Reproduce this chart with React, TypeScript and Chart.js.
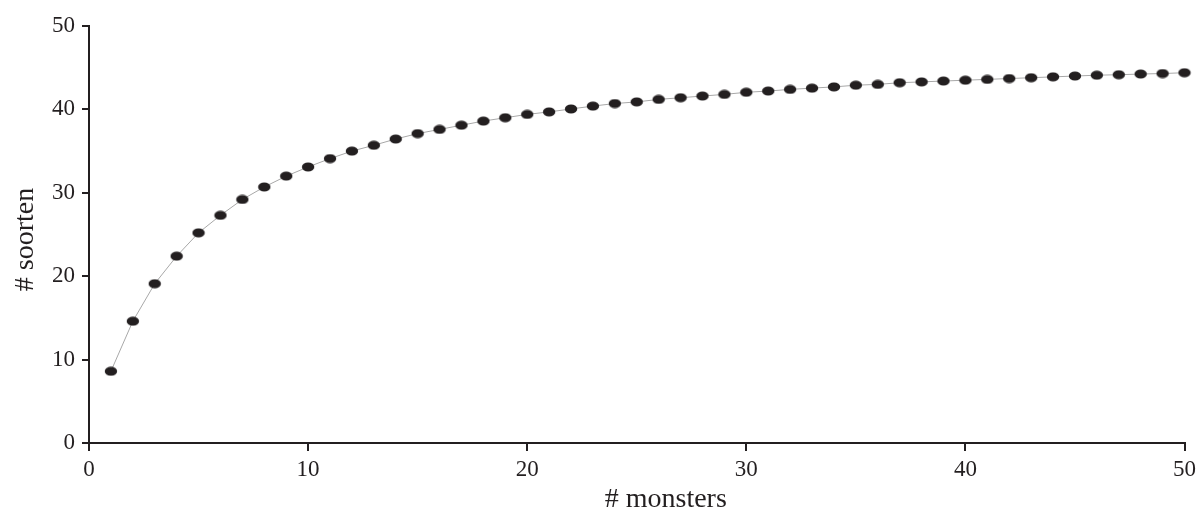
import React, { useEffect, useRef } from "react";
import { Chart, registerables } from "chart.js";

Chart.register(...registerables);

const monsters: number[] = Array.from({ length: 50 }, (_, i) => i + 1);
const soorten: number[] = [
  8.6, 14.6, 19.1, 22.4, 25.2, 27.3, 29.2, 30.7, 32.0, 33.1,
  34.1, 35.0, 35.7, 36.45, 37.1, 37.6, 38.1, 38.6, 39.0, 39.4,
  39.7, 40.05, 40.4, 40.7, 40.9, 41.2, 41.4, 41.6, 41.8, 42.05,
  42.2, 42.4, 42.55, 42.7, 42.9, 43.0, 43.2, 43.3, 43.4, 43.5,
  43.6, 43.7, 43.8, 43.9, 44.0, 44.1, 44.16, 44.24, 44.3, 44.4,
];
const xTicks: number[] = [0, 10, 20, 30, 40, 50];
const yTicks: number[] = [0, 10, 20, 30, 40, 50];
const xTitle = "# monsters";
const yTitle = "# soorten";

const INK = "#231f20";
const FONT = "'Liberation Serif', 'Times New Roman', serif";

function makeEllipse(): HTMLCanvasElement {
  const c = document.createElement("canvas");
  c.width = 14;
  c.height = 10;
  const ctx = c.getContext("2d")!;
  ctx.fillStyle = INK;
  ctx.beginPath();
  ctx.ellipse(7, 5, 6.2, 4.6, 0, 0, Math.PI * 2);
  ctx.fill();
  return c;
}

const axisTitles = {
  id: "axisTitles",
  afterDraw(chart: any) {
    const { ctx, chartArea } = chart;
    ctx.save();
    ctx.fillStyle = INK;
    ctx.font = `28px ${FONT}`;
    ctx.textAlign = "center";
    ctx.textBaseline = "alphabetic";
    const cx = chartArea.left + (chartArea.right - chartArea.left) * 0.5265;
    ctx.fillText(xTitle, cx, chart.height - 5);
    ctx.translate(33, (chartArea.top + chartArea.bottom) / 2 + 5);
    ctx.rotate(-Math.PI / 2);
    ctx.fillText(yTitle, 0, 0);
    ctx.restore();
  },
};

export default function App() {
  const ref = useRef<HTMLCanvasElement | null>(null);

  useEffect(() => {
    document.body.style.margin = "0";
    const canvas = ref.current!;
    const marker = makeEllipse();
    const chart = new Chart(canvas, {
      type: "line",
      data: {
        datasets: [
          {
            data: monsters.map((m, i) => ({ x: m, y: soorten[i] })),
            borderColor: "#a8a8a8",
            borderWidth: 1,
            pointStyle: marker as any,
            pointRadius: 6,
            tension: 0,
            clip: false as any,
          },
        ],
      },
      options: {
        responsive: false,
        animation: false,
        devicePixelRatio: 1,
        layout: { padding: { top: 26, right: 16, left: 0, bottom: 0 } },
        plugins: { legend: { display: false }, tooltip: { enabled: false } },
        scales: {
          x: {
            type: "linear",
            min: 0,
            max: 50,
            afterBuildTicks: (s: any) => {
              s.ticks = xTicks.map((v) => ({ value: v }));
            },
            afterFit: (s: any) => {
              s.height = 69;
            },
            border: { display: true, color: INK, width: 2 },
            grid: { drawOnChartArea: false, drawTicks: true, tickLength: 8, color: INK, lineWidth: 2 },
            ticks: { color: INK, font: { family: FONT, size: 23 }, padding: 5, maxRotation: 0 },
          },
          y: {
            type: "linear",
            min: 0,
            max: 50,
            afterBuildTicks: (s: any) => {
              s.ticks = yTicks.map((v) => ({ value: v }));
            },
            afterFit: (s: any) => {
              s.width = 89;
            },
            border: { display: true, color: INK, width: 2 },
            grid: { drawOnChartArea: false, drawTicks: true, tickLength: 7, color: INK, lineWidth: 2 },
            ticks: { color: INK, font: { family: FONT, size: 23 }, padding: 7 },
          },
        },
      },
      plugins: [axisTitles],
    });
    return () => chart.destroy();
  }, []);

  return <canvas ref={ref} width={1201} height={512} style={{ display: "block" }} />;
}
